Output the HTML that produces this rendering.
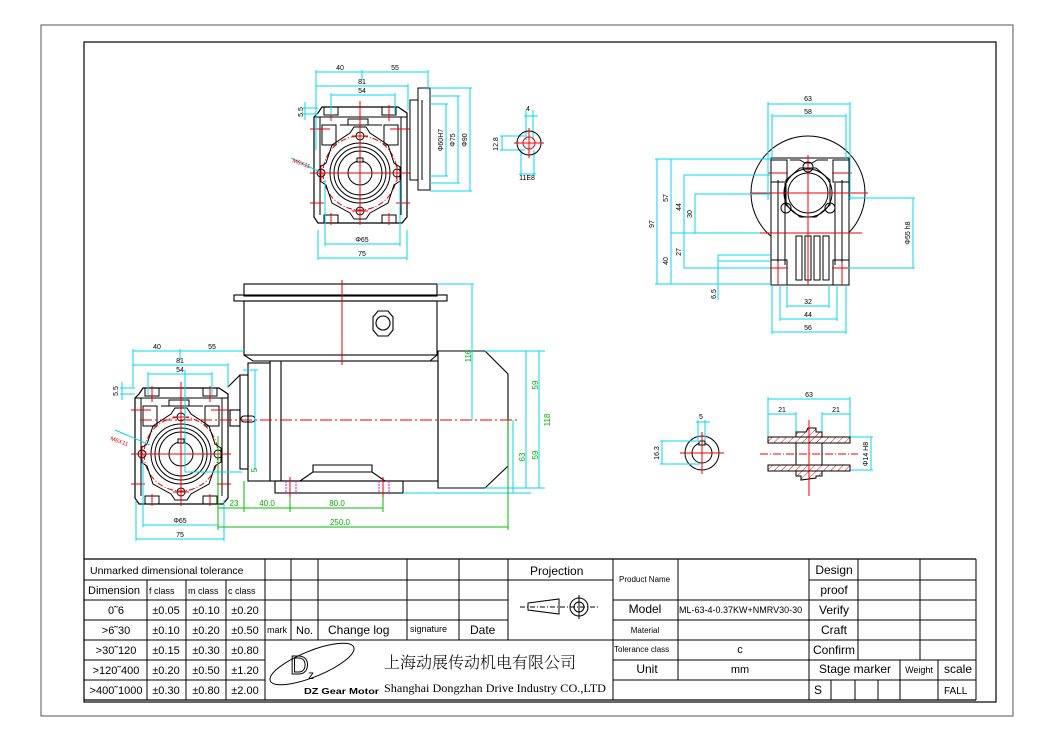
<!DOCTYPE html>
<html><head><meta charset="utf-8"><style>
html,body{margin:0;padding:0;background:#fff;}
svg{display:block;}
</style></head><body>
<svg width="1051" height="742" viewBox="0 0 1051 742" xmlns="http://www.w3.org/2000/svg" font-family="Liberation Sans, Noto Sans CJK SC, sans-serif">
<defs>
<g id="gb">
  <path d="M-42,-60 L-38,-66 L38,-66 L47,-60 L47,44 L42,50 L-42,50 L-46,44 L-46,-56 Z" fill="none" stroke="#000" stroke-width="1.2"/>
  <rect x="-36" y="-66" width="14" height="8" fill="none" stroke="#000"/>
  <rect x="22" y="-66" width="14" height="8" fill="none" stroke="#000"/>
  <rect x="-36" y="42" width="14" height="8" fill="none" stroke="#000"/>
  <rect x="22" y="42" width="14" height="8" fill="none" stroke="#000"/>
  <line x1="-46" y1="-56" x2="47" y2="-56" stroke="#000"/>
  <line x1="-40" y1="-56" x2="-40" y2="42" stroke="#000"/>
  <line x1="41" y1="-56" x2="41" y2="42" stroke="#000"/>
  <rect x="-12" y="-54" width="20" height="6" fill="none" stroke="#000"/>
  <line x1="-20" y1="-48" x2="22" y2="-48" stroke="#000"/>
  <rect x="24" y="-48" width="14" height="20" fill="none" stroke="#000"/>
  <rect x="-38" y="-48" width="14" height="20" fill="none" stroke="#000"/>
  <circle cx="0" cy="0" r="37" fill="none" stroke="#e00" stroke-dasharray="6,2,1,2"/>
  <path d="M-40,-6 L-40,8 L-34,12 L-28,30 L-10,40 L-6,46 L6,46 L10,40 L28,30 L34,12 L40,8 L40,-6 L34,-10 L28,-28 L10,-40 L6,-46 L-6,-46 L-10,-40 L-28,-28 L-34,-10 Z" fill="none" stroke="#000"/>
  <circle cx="0" cy="0" r="30" fill="none" stroke="#000"/>
  <circle cx="0" cy="0" r="26" fill="none" stroke="#000"/>
  <circle cx="0" cy="0" r="22" fill="none" stroke="#000"/>
  <circle cx="0" cy="0" r="12" fill="none" stroke="#000"/>
  <rect x="-3" y="-15" width="6" height="4" fill="#fff" stroke="#000"/>
  <circle cx="0" cy="-37" r="4" fill="none" stroke="#000"/>
  <circle cx="0" cy="38" r="4" fill="none" stroke="#000"/>
  <circle cx="-39" cy="0" r="4" fill="none" stroke="#000"/>
  <circle cx="37" cy="0" r="4" fill="none" stroke="#000"/>
  <line x1="-50" y1="0" x2="50" y2="0" stroke="#e00"/>
  <line x1="0" y1="-72" x2="0" y2="52" stroke="#e00"/>
  <line x1="-29" y1="-68" x2="-29" y2="-52" stroke="#e00"/>
  <line x1="29" y1="-68" x2="29" y2="-52" stroke="#e00"/>
  <line x1="-29" y1="40" x2="-29" y2="52" stroke="#e00"/>
  <line x1="29" y1="40" x2="29" y2="52" stroke="#e00"/>
  <line x1="-50" y1="-44" x2="-30" y2="-44" stroke="#e00"/>
  <line x1="30" y1="-44" x2="50" y2="-44" stroke="#e00"/>
  <line x1="-50" y1="30" x2="-36" y2="30" stroke="#e00"/>
  <line x1="36" y1="30" x2="50" y2="30" stroke="#e00"/>
  <line x1="-8" y1="-37" x2="8" y2="-37" stroke="#e00"/><line x1="-8" y1="38" x2="8" y2="38" stroke="#e00"/>
  <line x1="-39" y1="-8" x2="-39" y2="8" stroke="#e00"/><line x1="37" y1="-8" x2="37" y2="8" stroke="#e00"/>
</g>
</defs>
<rect x="41" y="25" width="972" height="691" fill="none" stroke="#555" stroke-width="1"/>
<rect x="84" y="42" width="912" height="660" fill="none" stroke="#000" stroke-width="1.2"/>

<!-- top view gearbox -->
<use href="#gb" x="360" y="173"/>
<g fill="none" stroke="#000">
<rect x="418" y="88" width="12" height="102"/>
<rect x="410" y="100" width="8" height="80"/>
<line x1="422" y1="100" x2="422" y2="180"/>
</g>
<g stroke="#00d8f0" fill="none" stroke-width="1">
<line x1="316" y1="72" x2="428" y2="72"/><line x1="316" y1="70" x2="316" y2="150"/><line x1="428" y1="70" x2="428" y2="90"/><line x1="362" y1="70" x2="362" y2="80"/>
<line x1="316" y1="86" x2="408" y2="86"/><line x1="408" y1="84" x2="408" y2="110"/>
<line x1="331" y1="95" x2="395" y2="95"/><line x1="331" y1="93" x2="331" y2="115"/><line x1="395" y1="93" x2="395" y2="115"/>
<line x1="303" y1="108" x2="318" y2="108"/><line x1="303" y1="114" x2="318" y2="114"/><line x1="305" y1="102" x2="305" y2="120"/>
<line x1="325" y1="244" x2="400" y2="244"/><line x1="325" y1="180" x2="325" y2="246"/><line x1="400" y1="180" x2="400" y2="246"/>
<line x1="318" y1="258" x2="407" y2="258"/><line x1="318" y1="230" x2="318" y2="260"/><line x1="407" y1="230" x2="407" y2="260"/>
<line x1="430" y1="104" x2="448" y2="104"/><line x1="430" y1="176" x2="448" y2="176"/><line x1="446" y1="104" x2="446" y2="176"/>
<line x1="430" y1="96" x2="460" y2="96"/><line x1="430" y1="183" x2="460" y2="183"/><line x1="458" y1="96" x2="458" y2="183"/>
<line x1="430" y1="88" x2="472" y2="88"/><line x1="430" y1="191" x2="472" y2="191"/><line x1="470" y1="88" x2="470" y2="191"/>
<line x1="291" y1="158" x2="320" y2="172"/>
<line x1="524" y1="116" x2="538" y2="116"/><line x1="526" y1="110" x2="526" y2="140"/><line x1="533" y1="110" x2="533" y2="140"/>
<line x1="500" y1="136" x2="525" y2="136"/><line x1="500" y1="150" x2="525" y2="150"/><line x1="502" y1="136" x2="502" y2="150"/>
<line x1="521" y1="150" x2="521" y2="176"/><line x1="534" y1="150" x2="534" y2="176"/><line x1="519" y1="174" x2="536" y2="174"/>
</g>
<g font-size="7" fill="#000" text-anchor="middle">
<text x="340" y="70">40</text><text x="395" y="70">55</text><text x="362" y="84">81</text><text x="362" y="93">54</text>
<text x="362" y="242">Φ65</text><text x="362" y="256">75</text>
<text x="300" y="115" transform="rotate(-90 300 112)">5.5</text>
<text x="443" y="140" transform="rotate(-90 443 140)">Φ60H7</text>
<text x="455" y="140" transform="rotate(-90 455 140)">Φ75</text>
<text x="467" y="140" transform="rotate(-90 467 140)">Φ90</text>
<text x="528" y="111">4</text><text x="498" y="144" transform="rotate(-90 498 144)">12.8</text><text x="527" y="180">11E8</text>
</g>
<text x="292" y="162" font-size="6" fill="#e00" transform="rotate(20 292 162)">M6X11</text>
<circle cx="529" cy="143" r="12" fill="none" stroke="#000"/>
<circle cx="529" cy="143" r="6" fill="none" stroke="#e00"/>
<line x1="514" y1="143" x2="544" y2="143" stroke="#e00"/><line x1="529" y1="128" x2="529" y2="158" stroke="#e00"/>

<!-- right view -->
<g fill="none" stroke="#000">
<circle cx="808" cy="193" r="57"/>
<rect x="771" y="158" width="78" height="127" fill="#fff"/>
<path d="M790,160 L800,160 L805,163 L812,163 L817,160 L828,160" />
<circle cx="808" cy="193" r="24"/><circle cx="808" cy="193" r="20"/>
<path d="M786,205 L786,180 L800,168 L816,168 L830,180 L830,205 L816,217 L800,217 Z"/>
<circle cx="808" cy="167" r="5"/><circle cx="786" cy="208" r="5"/><circle cx="830" cy="208" r="5"/>
<line x1="778" y1="180" x2="778" y2="285"/><line x1="842" y1="180" x2="842" y2="285"/>
<line x1="785" y1="183" x2="785" y2="265"/><line x1="835" y1="183" x2="835" y2="265"/>
<rect x="796" y="236" width="6" height="44"/><rect x="805" y="236" width="6" height="44"/><rect x="814" y="236" width="6" height="44"/><rect x="823" y="236" width="6" height="44"/>
<rect x="771" y="260" width="16" height="25"/><rect x="833" y="260" width="16" height="25"/>
<rect x="771" y="160" width="16" height="22"/><rect x="833" y="160" width="16" height="22"/>
</g>
<g stroke="#e00" fill="none">
<line x1="750" y1="193" x2="868" y2="193"/><line x1="808" y1="155" x2="808" y2="285"/>
<line x1="756" y1="233" x2="862" y2="233"/>
<line x1="768" y1="173" x2="788" y2="173"/><line x1="832" y1="173" x2="852" y2="173"/>
<line x1="768" y1="268" x2="788" y2="268"/><line x1="832" y1="268" x2="852" y2="268"/>
<line x1="778" y1="262" x2="778" y2="285"/><line x1="842" y1="262" x2="842" y2="285"/>
</g>
<g stroke="#00d8f0" fill="none">
<line x1="768" y1="104" x2="850" y2="104"/><line x1="768" y1="102" x2="768" y2="200"/><line x1="850" y1="102" x2="850" y2="200"/>
<line x1="772" y1="116" x2="846" y2="116"/><line x1="772" y1="114" x2="772" y2="160"/><line x1="846" y1="114" x2="846" y2="160"/>
<line x1="655" y1="159" x2="771" y2="159"/><line x1="655" y1="284" x2="771" y2="284"/><line x1="657" y1="159" x2="657" y2="284"/>
<line x1="671" y1="159" x2="671" y2="284"/><line x1="671" y1="233" x2="760" y2="233"/>
<line x1="684" y1="175" x2="770" y2="175"/><line x1="684" y1="175" x2="684" y2="268"/><line x1="684" y1="268" x2="770" y2="268"/>
<line x1="695" y1="194" x2="770" y2="194"/><line x1="695" y1="194" x2="695" y2="233"/>
<line x1="718" y1="255" x2="770" y2="255"/><line x1="718" y1="261" x2="770" y2="261"/><line x1="718" y1="255" x2="718" y2="300"/>
<line x1="848" y1="198" x2="915" y2="198"/><line x1="848" y1="268" x2="915" y2="268"/><line x1="913" y1="198" x2="913" y2="268"/>
<line x1="787" y1="306" x2="829" y2="306"/><line x1="787" y1="285" x2="787" y2="308"/><line x1="829" y1="285" x2="829" y2="308"/>
<line x1="780" y1="319" x2="837" y2="319"/><line x1="780" y1="285" x2="780" y2="321"/><line x1="837" y1="285" x2="837" y2="321"/>
<line x1="772" y1="332" x2="846" y2="332"/><line x1="772" y1="285" x2="772" y2="334"/><line x1="846" y1="285" x2="846" y2="334"/>
</g>
<g font-size="7" fill="#000" text-anchor="middle">
<text x="808" y="101">63</text><text x="808" y="114">58</text><text x="808" y="304">32</text><text x="808" y="317">44</text><text x="808" y="330">56</text>
<text x="654" y="224" transform="rotate(-90 654 224)">97</text>
<text x="668" y="198" transform="rotate(-90 668 198)">57</text>
<text x="668" y="261" transform="rotate(-90 668 261)">40</text>
<text x="681" y="207" transform="rotate(-90 681 207)">44</text>
<text x="681" y="252" transform="rotate(-90 681 252)">27</text>
<text x="692" y="214" transform="rotate(-90 692 214)">30</text>
<text x="716" y="294" transform="rotate(-90 716 294)">6.5</text>
<text x="910" y="233" transform="rotate(-90 910 233)">Φ55 h8</text>
</g>

<!-- lower shafts -->
<circle cx="702" cy="453" r="17" fill="none" stroke="#000"/>
<circle cx="702" cy="453" r="10" fill="none" stroke="#000"/>
<rect x="699" y="441" width="6" height="4" fill="#fff" stroke="#000"/>
<line x1="680" y1="453" x2="724" y2="453" stroke="#e00"/><line x1="702" y1="432" x2="702" y2="474" stroke="#e00"/>
<g stroke="#00d8f0" fill="none">
<line x1="660" y1="441" x2="700" y2="441"/><line x1="660" y1="464" x2="700" y2="464"/><line x1="662" y1="441" x2="662" y2="464"/>
<line x1="696" y1="422" x2="710" y2="422"/><line x1="698" y1="420" x2="698" y2="440"/><line x1="705" y1="420" x2="705" y2="440"/>
<line x1="768" y1="399" x2="850" y2="399"/><line x1="768" y1="397" x2="768" y2="437"/><line x1="850" y1="397" x2="850" y2="437"/>
<line x1="768" y1="414" x2="796" y2="414"/><line x1="796" y1="412" x2="796" y2="437"/>
<line x1="822" y1="414" x2="850" y2="414"/><line x1="822" y1="412" x2="822" y2="437"/>
<line x1="850" y1="437" x2="873" y2="437"/><line x1="850" y1="470" x2="873" y2="470"/><line x1="871" y1="437" x2="871" y2="470"/>
</g>
<defs><pattern id="h" width="5" height="5" patternUnits="userSpaceOnUse" patternTransform="rotate(45)"><line x1="0" y1="0" x2="0" y2="5" stroke="#e00" stroke-width="1"/></pattern></defs>
<g stroke="#000">
<rect x="768" y="437" width="82" height="6" fill="url(#h)"/>
<rect x="768" y="465" width="82" height="6" fill="url(#h)"/>
<path d="M796,437 L796,432 L806,432 L808,428 L816,428 L816,432 L822,432 L822,437 Z" fill="url(#h)"/>
<path d="M796,471 L796,476 L801,476 L801,480 L816,478 L816,476 L822,476 L822,471 Z" fill="url(#h)"/>
<rect x="796" y="443" width="26" height="22" fill="none"/>
</g>
<line x1="760" y1="454" x2="858" y2="454" stroke="#e00" stroke-dasharray="8,2,1,2"/>
<line x1="809" y1="420" x2="809" y2="496" stroke="#e00"/>
<g font-size="7" fill="#000" text-anchor="middle">
<text x="701" y="419">5</text><text x="659" y="453" transform="rotate(-90 659 453)">16.3</text>
<text x="809" y="397">63</text><text x="782" y="412">21</text><text x="836" y="412">21</text>
<text x="868" y="454" transform="rotate(-90 868 454)">Φ14 H8</text>
</g>

<!-- motor side view -->
<use href="#gb" x="181" y="454"/>
<g fill="none" stroke="#000" stroke-width="1.1">
<rect x="244" y="284" width="193" height="12"/>
<rect x="234" y="295" width="213" height="6"/>
<rect x="244" y="301" width="193" height="54"/>
<path d="M244,355 L253,361 L430,361 L437,355"/>
<rect x="248" y="363" width="22" height="118"/>
<rect x="240" y="375" width="8" height="94"/>
<rect x="230" y="410" width="10" height="16"/>
<line x1="228" y1="387" x2="240" y2="375"/>
<rect x="270" y="361" width="168" height="120"/>
<line x1="281" y1="361" x2="281" y2="481"/>
<path d="M438,351 L485,351 L508,374 L508,466 L485,488 L438,488 Z"/>
<rect x="275" y="481" width="128" height="12"/>
<path d="M300,481 L313,472 L313,465 L372,465 L372,472 L385,481"/>
<line x1="313" y1="472" x2="372" y2="472"/>
<path d="M373,317 L378,311 L388,311 L393,317 L393,330 L388,336 L378,336 L373,330 Z"/>
<circle cx="383" cy="323" r="7"/>
<rect x="241" y="416" width="14" height="6" rx="3"/>
</g>
<line x1="140" y1="420" x2="520" y2="420" stroke="#e00" stroke-dasharray="12,3,2,3"/>
<line x1="342" y1="280" x2="342" y2="365" stroke="#e00"/>
<line x1="290" y1="477" x2="290" y2="497" stroke="#e00"/><line x1="383" y1="477" x2="383" y2="497" stroke="#e00"/>
<line x1="286" y1="481" x2="286" y2="493" stroke="#e0e" stroke-dasharray="2,1"/><line x1="296" y1="481" x2="296" y2="493" stroke="#e0e" stroke-dasharray="2,1"/>
<line x1="379" y1="481" x2="379" y2="493" stroke="#e0e" stroke-dasharray="2,1"/><line x1="389" y1="481" x2="389" y2="493" stroke="#e0e" stroke-dasharray="2,1"/>
<g stroke="#00d8f0" fill="none">
<line x1="133" y1="351" x2="244" y2="351"/><line x1="133" y1="349" x2="133" y2="388"/><line x1="180" y1="349" x2="180" y2="360"/>
<line x1="133" y1="365" x2="228" y2="365"/><line x1="228" y1="363" x2="228" y2="388"/>
<line x1="148" y1="374" x2="212" y2="374"/><line x1="148" y1="372" x2="148" y2="395"/><line x1="212" y1="372" x2="212" y2="395"/>
<line x1="120" y1="388" x2="135" y2="388"/><line x1="120" y1="394" x2="135" y2="394"/><line x1="122" y1="382" x2="122" y2="400"/>
<line x1="185" y1="370" x2="185" y2="472"/><line x1="185" y1="472" x2="242" y2="472"/>
<line x1="243" y1="370" x2="258" y2="370"/><line x1="255" y1="370" x2="255" y2="470"/>
<line x1="143" y1="525" x2="218" y2="525"/><line x1="143" y1="460" x2="143" y2="527"/><line x1="218" y1="460" x2="218" y2="527"/>
<line x1="136" y1="539" x2="224" y2="539"/><line x1="136" y1="500" x2="136" y2="541"/><line x1="224" y1="500" x2="224" y2="541"/>
<line x1="437" y1="284" x2="474" y2="284"/><line x1="472" y1="284" x2="472" y2="420"/>
<line x1="485" y1="351" x2="545" y2="351"/><line x1="539" y1="351" x2="539" y2="488"/><line x1="526" y1="351" x2="526" y2="488"/>
<line x1="485" y1="488" x2="545" y2="488"/>
<line x1="403" y1="493" x2="531" y2="493"/><line x1="513" y1="420" x2="513" y2="493"/>
<line x1="115" y1="430" x2="150" y2="445"/>
</g>
<g stroke="#00c000" fill="none">
<line x1="218" y1="436" x2="218" y2="530"/><line x1="244" y1="481" x2="244" y2="512"/><line x1="290" y1="497" x2="290" y2="512"/>
<line x1="383" y1="497" x2="383" y2="512"/><line x1="508" y1="420" x2="508" y2="530"/>
<line x1="218" y1="508" x2="383" y2="508"/><line x1="218" y1="527" x2="508" y2="527"/>
</g>
<g font-size="7" fill="#000" text-anchor="middle">
<text x="157" y="349">40</text><text x="212" y="349">55</text><text x="180" y="363">81</text><text x="180" y="372">54</text>
<text x="180" y="523">Φ65</text><text x="180" y="537">75</text>
<text x="118" y="391" transform="rotate(-90 118 391)">5.5</text>
</g>
<text x="110" y="440" font-size="6" fill="#e00" transform="rotate(20 110 440)">M6X11</text>
<g font-size="8" fill="#00b000" text-anchor="middle">
<text x="234" y="506">23</text><text x="267" y="506">40.0</text><text x="337" y="506">80.0</text><text x="340" y="525">250.0</text>
<text x="471" y="356" transform="rotate(-90 471 356)">116</text>
<text x="538" y="385" transform="rotate(-90 538 385)">59</text>
<text x="538" y="455" transform="rotate(-90 538 455)">59</text>
<text x="550" y="420" transform="rotate(-90 550 420)">118</text>
<text x="525" y="457" transform="rotate(-90 525 457)">63</text>
<text x="257" y="470" transform="rotate(-90 257 470)">5</text>
</g>

<!-- title block -->
<g stroke="#000" stroke-width="1" fill="none">
<line x1="84" y1="559" x2="976" y2="559" stroke-width="1.3"/>
<line x1="976" y1="559" x2="976" y2="700"/>
<line x1="84" y1="700" x2="976" y2="700" stroke-width="1.3"/>
<line x1="84" y1="580" x2="508" y2="580"/><line x1="84" y1="600" x2="508" y2="600"/><line x1="84" y1="620" x2="508" y2="620"/>
<line x1="84" y1="640" x2="613" y2="640"/><line x1="84" y1="660" x2="265" y2="660"/><line x1="84" y1="680" x2="265" y2="680"/>
<line x1="508" y1="580" x2="613" y2="580"/>
<line x1="147" y1="580" x2="147" y2="700"/><line x1="186" y1="580" x2="186" y2="700"/><line x1="226" y1="580" x2="226" y2="700"/>
<line x1="265" y1="559" x2="265" y2="700"/><line x1="291" y1="559" x2="291" y2="640"/><line x1="318" y1="559" x2="318" y2="640"/>
<line x1="407" y1="559" x2="407" y2="640"/><line x1="459" y1="559" x2="459" y2="640"/><line x1="508" y1="559" x2="508" y2="640"/>
<line x1="613" y1="559" x2="613" y2="700"/><line x1="678" y1="559" x2="678" y2="680"/>
<line x1="613" y1="600" x2="809" y2="600"/><line x1="613" y1="620" x2="976" y2="620"/><line x1="613" y1="640" x2="976" y2="640"/>
<line x1="613" y1="660" x2="976" y2="660"/><line x1="613" y1="680" x2="976" y2="680"/>
<line x1="809" y1="580" x2="976" y2="580"/><line x1="809" y1="600" x2="976" y2="600"/>
<line x1="809" y1="559" x2="809" y2="700"/><line x1="858" y1="559" x2="858" y2="660"/><line x1="920" y1="559" x2="920" y2="660"/>
<line x1="831" y1="680" x2="831" y2="700"/><line x1="855" y1="680" x2="855" y2="700"/><line x1="878" y1="680" x2="878" y2="700"/>
<line x1="900" y1="660" x2="900" y2="700"/><line x1="938" y1="660" x2="938" y2="700"/>
</g>
<g fill="#000">
<text x="90" y="574" font-size="10.5">Unmarked dimensional tolerance</text>
<text x="88" y="594" font-size="11">Dimension</text>
<text x="149" y="594" font-size="9">f class</text><text x="188" y="594" font-size="9">m class</text><text x="228" y="594" font-size="9">c class</text>
<g font-size="11" text-anchor="middle">
<text x="116" y="614">0˜6</text><text x="116" y="634">&gt;6˜30</text><text x="116" y="654">&gt;30˜120</text><text x="116" y="674">&gt;120˜400</text><text x="116" y="694">&gt;400˜1000</text>
<text x="166" y="614">±0.05</text><text x="166" y="634">±0.10</text><text x="166" y="654">±0.15</text><text x="166" y="674">±0.20</text><text x="166" y="694">±0.30</text>
<text x="206" y="614">±0.10</text><text x="206" y="634">±0.20</text><text x="206" y="654">±0.30</text><text x="206" y="674">±0.50</text><text x="206" y="694">±0.80</text>
<text x="245" y="614">±0.20</text><text x="245" y="634">±0.50</text><text x="245" y="654">±0.80</text><text x="245" y="674">±1.20</text><text x="245" y="694">±2.00</text>
</g>
<text x="267" y="633" font-size="9">mark</text><text x="296" y="634" font-size="11">No.</text>
<text x="328" y="634" font-size="12">Change log</text><text x="410" y="632" font-size="9">signature</text><text x="470" y="634" font-size="12">Date</text>
<text x="530" y="575" font-size="12">Projection</text>
<text x="619" y="582" font-size="8">Product Name</text>
<text x="645" y="613" font-size="12" text-anchor="middle">Model</text>
<text x="645" y="633" font-size="8" text-anchor="middle">Material</text>
<text x="614" y="652" font-size="8">Tolerance class</text>
<text x="647" y="673" font-size="12" text-anchor="middle">Unit</text>
<text x="679" y="613" font-size="9">ML-63-4-0.37KW+NMRV30-30</text>
<text x="740" y="653" font-size="11" text-anchor="middle">c</text>
<text x="740" y="673" font-size="11" text-anchor="middle">mm</text>
<g font-size="12" text-anchor="middle">
<text x="834" y="574">Design</text><text x="834" y="594">proof</text><text x="834" y="614">Verify</text><text x="834" y="634">Craft</text><text x="834" y="654">Confirm</text>
<text x="855" y="673">Stage marker</text><text x="958" y="673">scale</text>
</g>
<text x="919" y="673" font-size="9" text-anchor="middle">Weight</text>
<text x="814" y="694" font-size="12">S</text><text x="944" y="694" font-size="10">FALL</text>
<text x="384" y="668" font-size="16" font-family="Noto Serif CJK SC, Noto Sans CJK SC, serif" font-weight="300">上海动展传动机电有限公司</text>
<text x="384" y="692" font-size="12" font-family="Liberation Serif, serif" textLength="222" lengthAdjust="spacingAndGlyphs">Shanghai Dongzhan Drive Industry CO.,LTD</text>
<text x="304" y="694" font-size="8" font-weight="bold" textLength="75" lengthAdjust="spacingAndGlyphs">DZ Gear Motor</text>
</g>
<ellipse cx="312" cy="664" rx="45" ry="13" transform="rotate(-22 312 664)" fill="none" stroke="#000"/>
<text x="290" y="674" font-size="26" fill="none" stroke="#000">D</text>
<text x="308" y="679" font-size="12" fill="#000">z</text>
<!-- projection symbol -->
<g stroke="#000" fill="none">
<path d="M528,603 L559,599 L559,614 L528,610 Z"/>
<line x1="520" y1="607" x2="598" y2="607" stroke-dasharray="5,2,1,2"/>
<circle cx="579" cy="607" r="9"/><circle cx="579" cy="607" r="5"/>
<line x1="579" y1="595" x2="579" y2="619"/>
</g>
</svg>
</body></html>
